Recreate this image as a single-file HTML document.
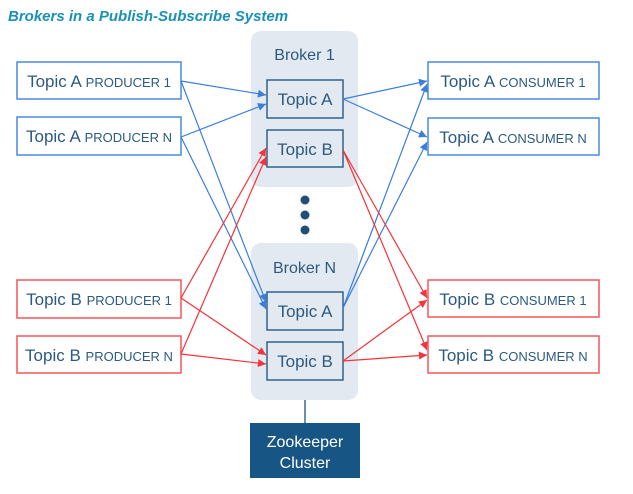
<!DOCTYPE html>
<html><head><meta charset="utf-8"><style>
body{margin:0;background:#fff;width:633px;height:489px;overflow:hidden;font-family:"Liberation Sans",sans-serif}
</style></head><body>
<svg width="633" height="489" xmlns="http://www.w3.org/2000/svg" font-family="Liberation Sans, sans-serif">
<defs>
<marker id="ab" viewBox="0 0 10 10" refX="10" refY="5" markerWidth="9" markerHeight="8" orient="auto" markerUnits="userSpaceOnUse"><path d="M0,0L10,5L0,10z" fill="#3b7fdb"/></marker>
<marker id="ar" viewBox="0 0 10 10" refX="10" refY="5" markerWidth="9" markerHeight="8" orient="auto" markerUnits="userSpaceOnUse"><path d="M0,0L10,5L0,10z" fill="#f5333a"/></marker>
</defs>
<text x="8" y="21" font-size="15" font-weight="bold" font-style="italic" fill="#1a91b5">Brokers in a Publish-Subscribe System</text>
<rect x="251" y="31" width="107" height="156" rx="10" fill="#e2e9f0"/>
<rect x="251" y="243" width="107" height="157" rx="10" fill="#e2e9f0"/>
<text x="304.5" y="60" font-size="16" fill="#2c5a80" text-anchor="middle">Broker 1</text>
<text x="304.5" y="273" font-size="16" fill="#2c5a80" text-anchor="middle">Broker N</text>
<g fill="#1f4f78"><circle cx="305" cy="200" r="4.5"/><circle cx="305" cy="215" r="4.5"/><circle cx="305" cy="230" r="4.5"/></g>
<line x1="305" y1="400" x2="305" y2="423" stroke="#6d8fae" stroke-width="2"/>
<rect x="250" y="423" width="110" height="55" fill="#175585"/>
<text x="305" y="447" font-size="16" fill="#fff" text-anchor="middle">Zookeeper</text>
<text x="305" y="468" font-size="16" fill="#fff" text-anchor="middle">Cluster</text>
<g fill="#e2e9f0" stroke="#2f638c" stroke-width="1.5">
<rect x="267" y="80" width="76" height="38"/><rect x="267" y="130" width="76" height="37"/>
<rect x="267" y="292" width="76" height="38"/><rect x="267" y="342" width="76" height="38"/>
</g>
<g font-size="17" fill="#2c5a80" text-anchor="middle">
<text x="305" y="105">Topic A</text><text x="305" y="155">Topic B</text>
<text x="305" y="317">Topic A</text><text x="305" y="367">Topic B</text>
</g>
<g fill="#fff" stroke-width="1.5">
<rect x="17" y="62" width="164" height="37" stroke="#4a8ae0"/>
<rect x="17" y="117" width="164" height="38" stroke="#4a8ae0"/>
<rect x="17" y="280" width="164" height="38" stroke="#f5555a"/>
<rect x="17" y="336" width="164" height="37" stroke="#f5555a"/>
<rect x="428" y="62" width="171" height="37" stroke="#4a8ae0"/>
<rect x="428" y="118" width="171" height="37" stroke="#4a8ae0"/>
<rect x="428" y="280" width="171" height="37" stroke="#f5555a"/>
<rect x="428" y="336" width="171" height="37" stroke="#f5555a"/>
</g>
<g fill="#2c5a80" text-anchor="middle" font-size="17">
<text x="99" y="87">Topic A <tspan font-size="13">PRODUCER 1</tspan></text>
<text x="99" y="142">Topic A <tspan font-size="13">PRODUCER N</tspan></text>
<text x="99" y="305">Topic B <tspan font-size="13">PRODUCER 1</tspan></text>
<text x="99" y="361">Topic B <tspan font-size="13">PRODUCER N</tspan></text>
<text x="513" y="87">Topic A <tspan font-size="13">CONSUMER 1</tspan></text>
<text x="513" y="143">Topic A <tspan font-size="13">CONSUMER N</tspan></text>
<text x="513" y="305">Topic B <tspan font-size="13">CONSUMER 1</tspan></text>
<text x="513" y="361">Topic B <tspan font-size="13">CONSUMER N</tspan></text>
</g>
<g stroke="#3b7fdb" stroke-width="1.2" fill="none" marker-end="url(#ab)">
<line x1="181" y1="81" x2="266" y2="95"/>
<line x1="181" y1="81" x2="266" y2="302"/>
<line x1="181" y1="137" x2="266" y2="104"/>
<line x1="181" y1="137" x2="266" y2="309"/>
<line x1="343" y1="99" x2="427" y2="81"/>
<line x1="343" y1="99" x2="427" y2="137"/>
<line x1="343" y1="308" x2="427" y2="84"/>
<line x1="343" y1="308" x2="427" y2="142"/>
</g>
<g stroke="#f5333a" stroke-width="1.2" fill="none" marker-end="url(#ar)">
<line x1="181" y1="298" x2="266" y2="148"/>
<line x1="181" y1="298" x2="266" y2="355"/>
<line x1="181" y1="354" x2="266" y2="157"/>
<line x1="181" y1="354" x2="266" y2="364"/>
<line x1="343" y1="150" x2="427" y2="298"/>
<line x1="343" y1="150" x2="427" y2="350"/>
<line x1="343" y1="361" x2="427" y2="300"/>
<line x1="343" y1="361" x2="427" y2="355"/>
</g>
</svg>
</body></html>
